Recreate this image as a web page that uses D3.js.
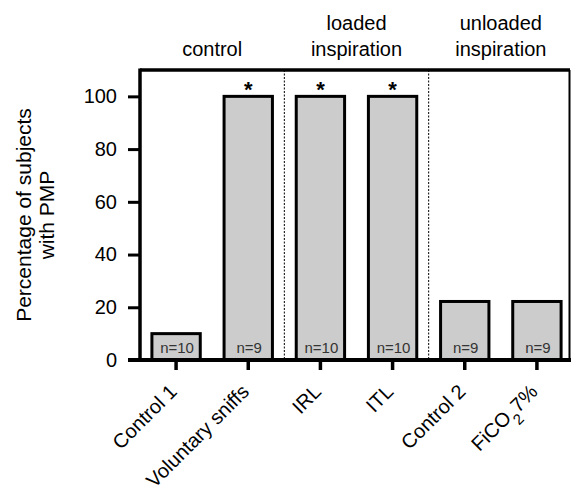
<!DOCTYPE html>
<html>
<head>
<meta charset="utf-8">
<script src="https://cdn.jsdelivr.net/npm/d3@7"></script>
<style>
  body { margin: 0; background: #fff; }
  text { font-family: "Liberation Sans", Arial, sans-serif; }
</style>
</head>
<body>
<svg id="vis"></svg>
<script>
const svg = d3.select("#vis").attr("width", 572).attr("height", 489);

const categories = ["Control 1", "Voluntary sniffs", "IRL", "ITL", "Control 2", "FiCO2 7%"];
const percentages = [10, 100, 100, 100, 22.2, 22.2];
const nLabels = ["n=10", "n=9", "n=10", "n=10", "n=9", "n=9"];
const significant = [false, true, true, true, false, false];
const groupNames = [["control"], ["loaded", "inspiration"], ["unloaded", "inspiration"]];
const groupStart = [0, 2, 4];
const groupEnd = [1, 3, 5];
const yTicks = [0, 20, 40, 60, 80, 100];

const BAR_COLOR = "#cccccc";

let xscale = d3.scaleBand()
            .domain(categories)
            .range([140, 573])
            .paddingInner(0.33)
            .paddingOuter(0.165);

let yscale = d3.scaleLinear()
            .domain([0, 110])
            .range([360, 70]);

function main() {
    drawFrame();
    drawBars();
    drawAxes();
    drawLabels();
}

function drawFrame() {
    // top and right border of the plot
    svg.append("line")
        .attr("x1", 140).attr("x2", 570)
        .attr("y1", yscale(110)).attr("y2", yscale(110))
        .attr("stroke", "black").attr("stroke-width", 3.5);
    svg.append("line")
        .attr("x1", 569.5).attr("x2", 569.5)
        .attr("y1", yscale(110)).attr("y2", yscale(0))
        .attr("stroke", "black").attr("stroke-width", 2);

    // dashed group dividers
    const step = xscale.step();
    [1, 3].forEach(i => {
        const x = xscale(categories[i]) + xscale.bandwidth() + (step - xscale.bandwidth()) / 2;
        svg.append("line")
            .attr("x1", x).attr("x2", x)
            .attr("y1", yscale(110)).attr("y2", yscale(0))
            .attr("stroke", "black").attr("stroke-width", 1)
            .attr("stroke-dasharray", "2,1.5");
    });
}

function drawBars() {
    svg.selectAll(".bars").data(categories).join("rect")
        .attr("class", "bars")
        .attr("x", d => xscale(d))
        .attr("y", (d, i) => yscale(percentages[i]))
        .attr("width", xscale.bandwidth())
        .attr("height", (d, i) => yscale(0) - yscale(percentages[i]))
        .attr("fill", BAR_COLOR)
        .attr("stroke", "black")
        .attr("stroke-width", 3);

    svg.selectAll(".nlab").data(categories).join("text")
        .attr("class", "nlab")
        .attr("x", d => xscale(d) + xscale.bandwidth() / 2 + 1)
        .attr("y", yscale(0) - 7)
        .attr("text-anchor", "middle")
        .attr("font-size", 15)
        .attr("fill", "#333")
        .text((d, i) => nLabels[i]);

    svg.selectAll(".star").data(categories.filter((d, i) => significant[i])).join("text")
        .attr("class", "star")
        .attr("x", d => xscale(d) + xscale.bandwidth() / 2)
        .attr("y", yscale(100) + 1)
        .attr("text-anchor", "middle")
        .attr("font-size", 22)
        .attr("font-weight", "bold")
        .text("*");
}

function drawAxes() {
    const yAxis = svg.append("g")
        .attr("transform", "translate(140,0)")
        .call(d3.axisLeft(yscale).tickValues(yTicks).tickSize(12).tickPadding(11));
    yAxis.select(".domain").attr("d", `M0,${yscale(110) - 1.5}V${yscale(0)}`)
        .attr("stroke-width", 3.5);
    yAxis.selectAll(".tick line").attr("stroke-width", 3);
    yAxis.selectAll(".tick text")
        .attr("font-size", 20)
        .attr("font-family", "Liberation Sans, Arial, sans-serif")
        .attr("fill", "black");

    const xAxis = svg.append("g")
        .attr("transform", `translate(0,${yscale(0)})`)
        .call(d3.axisBottom(xscale).tickSize(10).tickFormat(""));
    xAxis.select(".domain").attr("d", "M128,0H571").attr("stroke-width", 4);
    xAxis.selectAll(".tick line").attr("stroke-width", 3.5);
}

function drawLabels() {
    const labels = svg.selectAll(".xlab").data(categories).join("text")
        .attr("class", "xlab")
        .attr("text-anchor", "end")
        .attr("font-size", 20)
        .attr("transform", d => {
            const x = xscale(d) + xscale.bandwidth() / 2 + 2;
            return `translate(${x},${yscale(0) + 33}) rotate(-45)`;
        });
    labels.each(function(d) {
        const t = d3.select(this);
        if (d === "FiCO2 7%") {
            t.append("tspan").text("FiCO");
            t.append("tspan").attr("font-size", 15).attr("baseline-shift", "sub").text("2");
            t.append("tspan").text("7%");
        } else {
            t.text(d);
        }
    });

    // group titles above the frame
    groupNames.forEach((lines, g) => {
        const x0 = xscale(categories[groupStart[g]]);
        const x1 = xscale(categories[groupEnd[g]]) + xscale.bandwidth();
        const cx = (x0 + x1) / 2;
        lines.forEach((line, k) => {
            svg.append("text")
                .attr("x", cx)
                .attr("y", 56 - (lines.length - 1 - k) * 26.5)
                .attr("text-anchor", "middle")
                .attr("font-size", 20)
                .text(line);
        });
    });

    // y axis title
    const yTitle = svg.append("text")
        .attr("transform", `translate(31,${(yscale(0) + yscale(110)) / 2}) rotate(-90)`)
        .attr("text-anchor", "middle")
        .attr("font-size", 21);
    yTitle.append("tspan").attr("x", 0).attr("dy", 0).text("Percentage of subjects");
    yTitle.append("tspan").attr("x", 0).attr("dy", 23).text("with PMP");
}

main();
</script>
</body>
</html>
